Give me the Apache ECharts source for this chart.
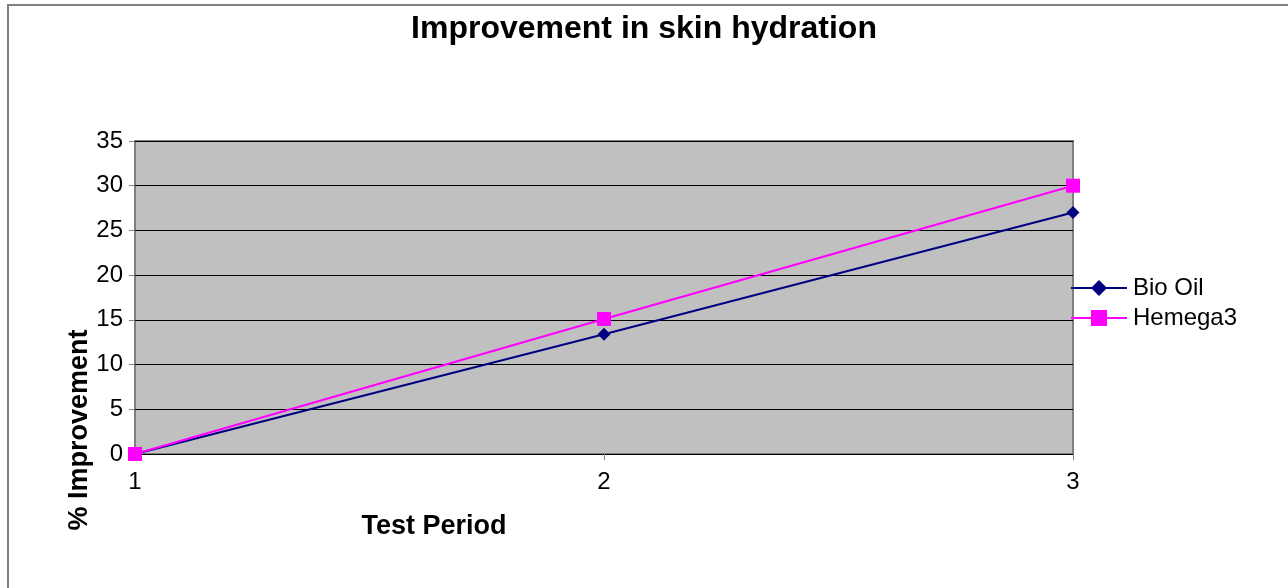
<!DOCTYPE html>
<html><head><meta charset="utf-8">
<script src="https://cdn.jsdelivr.net/npm/echarts@6/dist/echarts.min.js"></script>
<style>html,body{margin:0;padding:0;background:#fff}#c{width:1288px;height:588px}</style>
</head><body><div id="c"></div>
<script>
const categories = ['1', '2', '3'];
const bioOil = [0, 13.4, 27];
const hemega3 = [0, 15.1, 30];
const seriesNames = ['Bio Oil', 'Hemega3'];
const titleText = 'Improvement in skin hydration';
const xName = 'Test Period';
const yName = '% Improvement';

const chart = echarts.init(document.getElementById('c'));
const F = 'Liberation Sans, Arial, sans-serif';
chart.setOption({
  animation: false,
  backgroundColor: '#fff',
  title: {
    text: titleText, left: 'center', top: 7,
    textStyle: { fontFamily: F, fontSize: 32, fontWeight: 'bold', color: '#000', lineHeight: 34 }
  },
  graphic: [
    { type: 'rect', silent: true, shape: { x: 8, y: 5, width: 1300, height: 600 }, style: { fill: 'none', stroke: '#808080', lineWidth: 2 }, z: -1 },
    { type: 'text', x: 80, y: 430, rotation: Math.PI / 2, style: { text: yName, font: 'bold 27px ' + F, fill: '#000', textAlign: 'center', textVerticalAlign: 'middle' } },
    { type: 'text', x: 434, y: 527, style: { text: xName, font: 'bold 27px ' + F, fill: '#000', textAlign: 'center', textVerticalAlign: 'middle' } }
  ],
  legend: {
    orient: 'vertical', left: 1070, top: 276, padding: 0,
    itemWidth: 56, itemHeight: 20, itemGap: 6,
    textStyle: { fontFamily: F, fontSize: 24, color: '#000', padding: [0, 0, 0, 1] },
    data: seriesNames
  },
  grid: {
    left: 135, top: 141, width: 938, height: 313,
    show: true, backgroundColor: '#c0c0c0', borderColor: '#808080', borderWidth: 2
  },
  xAxis: {
    type: 'category', data: categories, boundaryGap: false,
    axisLine: { show: false },
    axisTick: { show: true, length: 6, alignWithLabel: true, lineStyle: { color: '#808080' } },
    axisLabel: { fontFamily: F, fontSize: 24, color: '#000', margin: 16 },
    splitLine: { show: false }
  },
  yAxis: {
    type: 'value', min: 0, max: 35, interval: 5,
    axisLine: { show: false },
    axisTick: { show: true, length: 6, lineStyle: { color: '#808080' } },
    axisLabel: { fontFamily: F, fontSize: 24, color: '#000', margin: 12 },
    splitLine: { show: true, lineStyle: { color: '#000', width: 1 } }
  },
  series: [
    { name: seriesNames[0], type: 'line', data: bioOil, color: '#000080',
      symbol: 'diamond', symbolSize: 13, lineStyle: { width: 2, color: '#000080' },
      itemStyle: { color: '#000080' }, z: 3 },
    { name: seriesNames[1], type: 'line', data: hemega3, color: '#ff00ff',
      symbol: 'rect', symbolSize: 14, lineStyle: { width: 2, color: '#ff00ff' },
      itemStyle: { color: '#ff00ff' }, z: 4 }
  ]
});
</script></body></html>
